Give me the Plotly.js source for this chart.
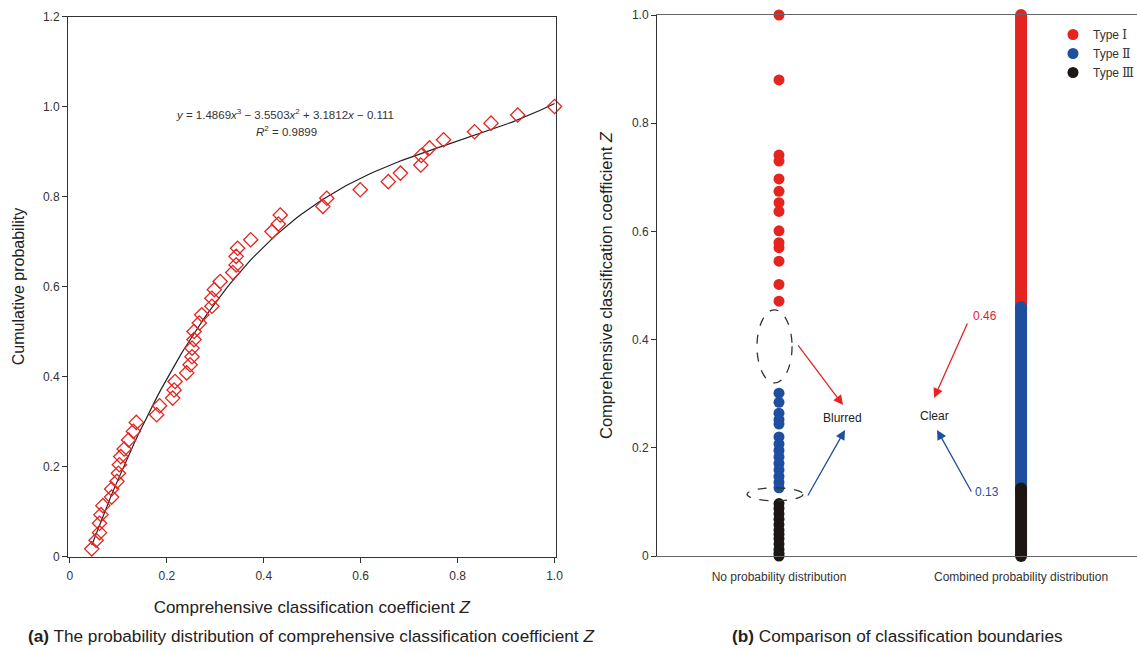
<!DOCTYPE html>
<html>
<head>
<meta charset="utf-8">
<script src="https://cdn.plot.ly/plotly-3.0.1.min.js"></script>
<style>html,body{margin:0;padding:0;background:#fff;}#chart{width:1137px;height:651px;}</style>
</head>
<body>
<div id="chart"></div>
<script>
// ---------- Panel (a): cumulative probability of Z ----------
const zValues = [0.045,0.054,0.061,0.061,0.064,0.068,0.086,0.086,0.097,0.100,0.102,0.105,0.112,0.121,0.131,0.137,
  0.179,0.185,0.212,0.215,0.217,0.241,0.248,0.252,0.252,0.256,0.256,0.267,0.272,0.293,0.293,0.298,0.310,
  0.336,0.343,0.343,0.346,0.373,0.417,0.430,0.434,0.522,0.530,0.599,0.657,0.682,0.724,0.725,0.742,0.771,
  0.835,0.869,0.924,1.000];
const cumProb = [0.017,0.036,0.053,0.074,0.093,0.113,0.132,0.150,0.167,0.185,0.204,0.222,0.239,0.259,0.278,0.298,
  0.315,0.335,0.352,0.370,0.389,0.408,0.426,0.444,0.463,0.482,0.500,0.519,0.537,0.556,0.574,0.593,0.611,
  0.631,0.648,0.667,0.685,0.704,0.722,0.739,0.759,0.778,0.796,0.815,0.833,0.852,0.870,0.891,0.908,0.926,
  0.944,0.963,0.981,1.000];
const fitCoef = [1.4869, -3.5503, 3.1812, -0.111]; // x^3, x^2, x, const
const fitR2 = 0.9899;
const xTicksA = [0, 0.2, 0.4, 0.6, 0.8, 1.0];
const xTickTextA = ['0', '0.2', '0.4', '0.6', '0.8', '1.0'];
const yTicksA = [0, 0.2, 0.4, 0.6, 0.8, 1.0, 1.2];
const yTickTextA = ['0', '0.2', '0.4', '0.6', '0.8', '1.0', '1.2'];

// ---------- Panel (b): classification boundaries ----------
const methods = ['No probability distribution', 'Combined probability distribution'];
const typeNumerals = ['\u2160', '\u2161', '\u2162'];
const typeIZ = [1.0, 0.880, 0.741, 0.730, 0.697, 0.674, 0.653, 0.637, 0.601, 0.579, 0.570, 0.545, 0.502, 0.471];
const typeIIZ = [0.301, 0.284, 0.264, 0.252, 0.244, 0.220, 0.207, 0.195, 0.183, 0.171, 0.159, 0.147, 0.136, 0.126];
const typeIIIZ = [0.097, 0.088, 0.078, 0.068, 0.058, 0.048, 0.040, 0.032, 0.022, 0.012, 0.005, 0.0];
const combinedBounds = [1.0, 0.46, 0.125, 0.0]; // Type I top, I/II, II/III, bottom
const boundaryLabels = ['0.46', '0.13'];
const yTicksB = [0, 0.2, 0.4, 0.6, 0.8, 1.0];
const yTickTextB = ['0', '0.2', '0.4', '0.6', '0.8', '1.0'];

const RED = '#e5231f', BLUE = '#1d4e9f', BLACK = '#1e1614';
const FONT = '"Liberation Sans", Arial, Helvetica, sans-serif';
const typeNames = typeNumerals.map(n => 'Type <span style="font-family:\'DejaVu Serif\',\'Liberation Serif\',serif">' + n + '</span>');

// fitted cubic from the coefficients printed on the chart
const xMin = Math.min(...zValues), xMax = Math.max(...zValues);
const fitX = [], fitY = [];
for (let i = 0; i <= 120; i++) {
  const x = xMin + (xMax - xMin) * i / 120;
  fitX.push(x);
  fitY.push(((fitCoef[0] * x + fitCoef[1]) * x + fitCoef[2]) * x + fitCoef[3]);
}

const traces = [
  {x: fitX, y: fitY, mode: 'lines', line: {color: '#222', width: 1.2}, xaxis: 'x', yaxis: 'y', showlegend: false, hoverinfo: 'skip'},
  {x: zValues, y: cumProb, mode: 'markers', marker: {symbol: 'diamond-open', size: 11, color: RED, line: {width: 1.3, color: RED}},
   xaxis: 'x', yaxis: 'y', showlegend: false, cliponaxis: false},
  {x: typeIZ.map(() => methods[0]), y: typeIZ, mode: 'markers', name: typeNames[0], marker: {size: 11, color: RED},
   xaxis: 'x2', yaxis: 'y2', cliponaxis: false},
  {x: typeIIZ.map(() => methods[0]), y: typeIIZ, mode: 'markers', name: typeNames[1], marker: {size: 11, color: BLUE},
   xaxis: 'x2', yaxis: 'y2', cliponaxis: false},
  {x: typeIIIZ.map(() => methods[0]), y: typeIIIZ, mode: 'markers', name: typeNames[2], marker: {size: 11, color: BLACK},
   xaxis: 'x2', yaxis: 'y2', cliponaxis: false},
];
const segColors = [RED, BLUE, BLACK];
for (let k = 0; k < 3; k++) {
  traces.push({x: [methods[1], methods[1]], y: [combinedBounds[k], combinedBounds[k + 1]], mode: 'lines+markers',
    line: {color: segColors[k], width: 12}, marker: {size: 12, color: segColors[k]},
    xaxis: 'x2', yaxis: 'y2', showlegend: false, cliponaxis: false, hoverinfo: 'skip'});
}

const eqText = '<i>y</i> = ' + fitCoef[0].toFixed(4) + '<i>x</i><sup>3</sup> \u2212 ' + Math.abs(fitCoef[1]).toFixed(4) +
  '<i>x</i><sup>2</sup> + ' + fitCoef[2].toFixed(4) + '<i>x</i> \u2212 ' + Math.abs(fitCoef[3]).toFixed(3);

function arrow(x, y, ax, ay, color) {
  return {xref: 'x2', yref: 'y2', axref: 'x2', ayref: 'y2', x: x, y: y, ax: ax, ay: ay, text: '',
    showarrow: true, arrowhead: 2, arrowsize: 1.5, arrowwidth: 1.3, arrowcolor: color, standoff: 0, startstandoff: 0};
}

const layout = {
  width: 1137, height: 651,
  margin: {l: 0, r: 0, t: 0, b: 0, autoexpand: false},
  paper_bgcolor: '#fff', plot_bgcolor: '#fff',
  font: {family: FONT, color: '#333', size: 12},
  showlegend: true,
  legend: {x: 1053 / 1137, y: (651 - 20) / 651, xanchor: 'left', yanchor: 'top', bgcolor: 'rgba(0,0,0,0)',
    font: {size: 12, color: '#333'}, tracegroupgap: 0, itemwidth: 30},
  xaxis: {domain: [68 / 1137, 555.5 / 1137], range: [-0.004, 1.002], tickvals: xTicksA, ticktext: xTickTextA,
    ticks: 'outside', ticklen: 5, tickcolor: '#333', showline: true, linecolor: '#333', linewidth: 1, mirror: true,
    showgrid: false, zeroline: false, tickfont: {size: 12, color: '#333'}, ticklabelstandoff: 3,
    title: {text: 'Comprehensive classification coefficient <i>Z</i>', font: {size: 17, color: '#222'}, standoff: 19}},
  yaxis: {domain: [(651 - 556.5) / 651, (651 - 16.5) / 651], range: [0, 1.2], tickvals: yTicksA, ticktext: yTickTextA,
    ticks: 'outside', ticklen: 5, tickcolor: '#333', showline: true, linecolor: '#333', linewidth: 1, mirror: true,
    showgrid: false, zeroline: false, tickfont: {size: 12, color: '#333'},
    title: {text: 'Cumulative probability', font: {size: 16, color: '#222'}, standoff: 14}},
  xaxis2: {anchor: 'y2', domain: [657 / 1137, 1], type: 'category', categoryorder: 'array', categoryarray: methods,
    range: [-0.504, 1.479], ticks: '', showline: true, linecolor: '#666', linewidth: 1.2, mirror: true,
    showgrid: false, zeroline: false, tickfont: {size: 12, color: '#333'}, ticklabelstandoff: 9},
  yaxis2: {anchor: 'x2', domain: [(651 - 556) / 651, (651 - 15) / 651], range: [0, 1.0], tickvals: yTicksB, ticktext: yTickTextB,
    ticks: 'outside', ticklen: 5, tickcolor: '#333', showline: true, linecolor: '#333', linewidth: 1,
    showgrid: false, zeroline: false, tickfont: {size: 12, color: '#333'},
    title: {text: 'Comprehensive classification coefficient <i>Z</i>', font: {size: 16.5, color: '#222'}, standoff: 15}},
  shapes: [
    {type: 'circle', xref: 'x2', yref: 'y2', x0: -0.091, x1: 0.054, y0: 0.320, y1: 0.455,
      line: {color: '#333', width: 1.3, dash: 'dash'}},
    {type: 'circle', xref: 'x2', yref: 'y2', x0: -0.132, x1: 0.099, y0: 0.102, y1: 0.126,
      line: {color: '#333', width: 1.3, dash: 'dash'}},
  ],
  annotations: [
    {xref: 'x', yref: 'y', x: 0.444, y: 0.984, text: eqText, showarrow: false, font: {size: 11.5, color: '#333'}},
    {xref: 'x', yref: 'y', x: 0.446, y: 0.946, text: '<i>R</i><sup>2</sup> = ' + fitR2.toFixed(4), showarrow: false,
      font: {size: 11.5, color: '#333'}},
    arrow(0.2646, 0.279, 0.0745, 0.392, RED),
    arrow(0.2727, 0.233, 0.1158, 0.109, BLUE),
    arrow(0.6406, 0.292, 0.781, 0.4325, RED),
    arrow(0.653, 0.233, 0.798, 0.1165, BLUE),
    {xref: 'x2', yref: 'y2', x: 0.2605, y: 0.255, text: 'Blurred', showarrow: false, font: {size: 12, color: '#222'}},
    {xref: 'x2', yref: 'y2', x: 0.6406, y: 0.259, text: 'Clear', showarrow: false, font: {size: 12, color: '#222'}},
    {xref: 'x2', yref: 'y2', x: 0.851, y: 0.4436, text: boundaryLabels[0], showarrow: false, font: {size: 12, color: RED}},
    {xref: 'x2', yref: 'y2', x: 0.860, y: 0.118, text: boundaryLabels[1], showarrow: false, font: {size: 12, color: BLUE}},
    {xref: 'paper', yref: 'paper', x: 311 / 1137, y: (651 - 636) / 651, xanchor: 'center', yanchor: 'middle',
      text: '<b>(a)</b> The probability distribution of comprehensive classification coefficient <i>Z</i>',
      showarrow: false, font: {size: 17.2, color: '#222'}},
    {xref: 'paper', yref: 'paper', x: 897 / 1137, y: (651 - 636) / 651, xanchor: 'center', yanchor: 'middle',
      text: '<b>(b)</b> Comparison of classification boundaries', showarrow: false, font: {size: 17.2, color: '#222'}},
  ],
};

Plotly.newPlot('chart', traces, layout, {displayModeBar: false, staticPlot: true});
</script>
</body>
</html>
